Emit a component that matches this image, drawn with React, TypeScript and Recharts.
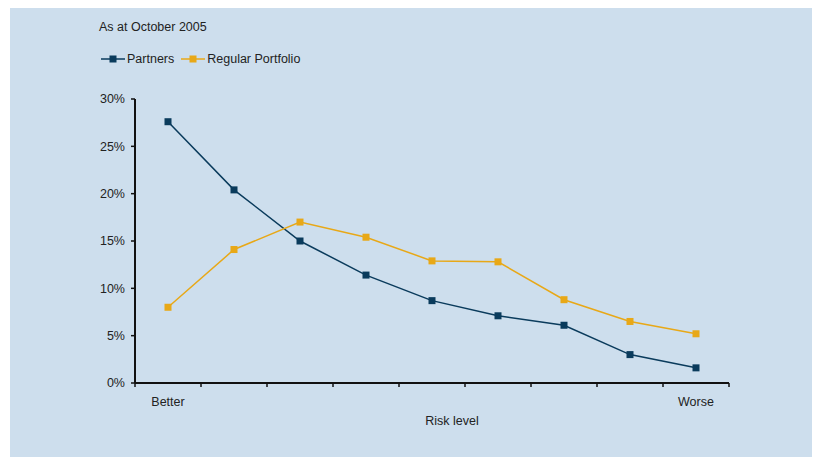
import React from 'react';
import { LineChart, Line, XAxis, YAxis, Legend, Label } from 'recharts';

// Share of holdings per risk band, in percent
const riskBands = [1, 2, 3, 4, 5, 6, 7, 8, 9];
const partners = [27.6, 20.4, 15.0, 11.4, 8.7, 7.1, 6.1, 3.0, 1.6];
const regularPortfolio = [8.0, 14.1, 17.0, 15.4, 12.9, 12.8, 8.8, 6.5, 5.2];
const yTicks = [0, 5, 10, 15, 20, 25, 30];
const bandEdges = [0.5, 1.5, 2.5, 3.5, 4.5, 5.5, 6.5, 7.5, 8.5, 9.5];
const endLabels: Record<number, string> = { 1: 'Better', 9: 'Worse' };

const NAVY = '#0a3b5c';
const GOLD = '#e8a817';
const PANEL = '#cddeed';
const FONT = '"Liberation Sans", Arial, sans-serif';
const FONT_SIZE = 12.5;

const data = riskBands.map((risk, i) => ({
  risk,
  partners: partners[i],
  regular: regularPortfolio[i],
}));

const squareDot = (color: string) => (props: any) => {
  const { cx, cy, index } = props;
  return <rect key={`dot-${index}`} x={cx - 3.5} y={cy - 3.5} width={7} height={7} fill={color} />;
};

const LegendRow = () => (
  <div style={{ display: 'flex', alignItems: 'center', fontFamily: FONT, fontSize: FONT_SIZE, color: '#222' }}>
    {[
      { name: 'Partners', color: NAVY },
      { name: 'Regular Portfolio', color: GOLD },
    ].map((item) => (
      <div key={item.name} style={{ display: 'flex', alignItems: 'center', marginRight: 7 }}>
        <svg width={24} height={10}>
          <line x1={0} y1={5} x2={24} y2={5} stroke={item.color} strokeWidth={1.5} />
          <rect x={8.5} y={1.5} width={7} height={7} fill={item.color} />
        </svg>
        <span style={{ marginLeft: 2 }}>{item.name}</span>
      </div>
    ))}
  </div>
);

export default function App() {
  return (
    <div style={{ position: 'absolute', left: 0, top: 0, width: 813, height: 457, background: '#fff' }}>
      <div style={{ position: 'absolute', left: 10, top: 8, width: 802, height: 449, background: PANEL }} />
      <div
        style={{
          position: 'absolute',
          left: 99,
          top: 20,
          fontFamily: FONT,
          fontSize: FONT_SIZE,
          color: '#222',
        }}
      >
        As at October 2005
      </div>
      <div style={{ position: 'absolute', left: 0, top: 0 }}>
        <LineChart
          width={813}
          height={457}
          data={data}
          margin={{ top: 99, right: 84, left: 75, bottom: 44 }}
          style={{ fontFamily: FONT }}
        >
          {/* band boundaries: tick marks only, no text */}
          <XAxis
            xAxisId="edges"
            dataKey="risk"
            type="number"
            domain={[0.5, 9.5]}
            ticks={bandEdges}
            tickFormatter={() => ''}
            tick={{ fontSize: 1 }}
            tickSize={4}
            height={1}
            axisLine={{ stroke: '#111', strokeWidth: 2 }}
            tickLine={{ stroke: '#111', strokeWidth: 1.5 }}
          />
          <XAxis
            xAxisId="names"
            dataKey="risk"
            type="number"
            domain={[0.5, 9.5]}
            ticks={[1, 9]}
            tickFormatter={(v: number) => endLabels[v] ?? ''}
            axisLine={false}
            tickLine={false}
            tickMargin={7}
            height={29}
            tick={{ fill: '#222', fontSize: FONT_SIZE }}
          >
            <Label value="Risk level" position="insideBottom" offset={-12} dx={20} fill="#222" fontSize={FONT_SIZE} />
          </XAxis>
          <YAxis
            width={60}
            domain={[0, 30]}
            ticks={yTicks}
            tickFormatter={(v: number) => `${v}%`}
            tickSize={4}
            tickMargin={6}
            axisLine={{ stroke: '#111', strokeWidth: 2 }}
            tickLine={{ stroke: '#111', strokeWidth: 1.5 }}
            tick={{ fill: '#222', fontSize: FONT_SIZE }}
          />
          <Legend
            layout="horizontal"
            verticalAlign="middle"
            content={() => <LegendRow />}
            wrapperStyle={{ position: 'absolute', top: 52, left: 101, width: 'auto' }}
          />
          <Line
            xAxisId="edges"
            dataKey="partners"
            name="Partners"
            stroke={NAVY}
            strokeWidth={1.5}
            dot={squareDot(NAVY)}
            activeDot={false}
            isAnimationActive={false}
          />
          <Line
            xAxisId="edges"
            dataKey="regular"
            name="Regular Portfolio"
            stroke={GOLD}
            strokeWidth={1.5}
            dot={squareDot(GOLD)}
            activeDot={false}
            isAnimationActive={false}
          />
        </LineChart>
      </div>
    </div>
  );
}
